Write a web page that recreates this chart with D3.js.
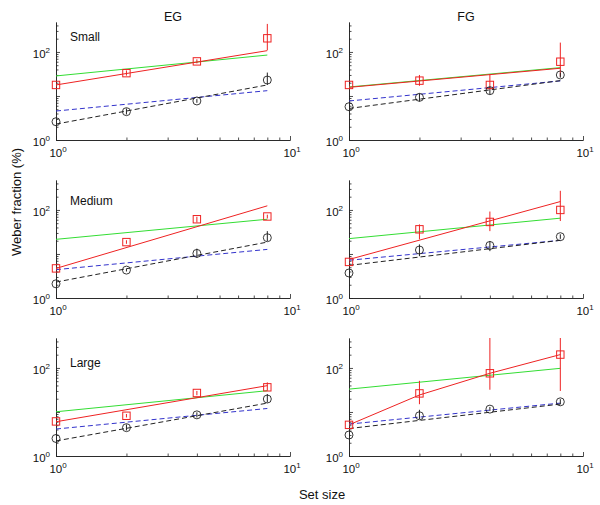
<!DOCTYPE html>
<html>
<head>
<meta charset="utf-8">
<script src="https://cdn.jsdelivr.net/npm/d3@7"></script>
<style>
  body { margin: 0; background: #fff; }
  svg { display: block; font-family: "Liberation Sans", Arial, sans-serif; }
</style>
</head>
<body>
<svg id="chart" width="600" height="505"></svg>
<script>
// ---------- data ----------
const columnTitles = ["EG", "FG"];
const rowLabels = ["Small", "Medium", "Large"];
const setSizes = [1, 2, 4, 8];
const fitEnds = [1, 8];
const xTickValues = [1, 10];
const yTickValues = [1, 100];
// panel order: EG Small, FG Small, EG Medium, FG Medium, EG Large, FG Large
const redPoints = [
  [17.8, 33, 61, 204],
  [17.8, 22.3, 17.8, 60],
  [4.7, 18.6, 61.5, 71],
  [6.6, 36.3, 53.4, 100],
  [6.1, 8.2, 27, 36.3],
  [5.1, 26.4, 75.6, 201]
];
const redErrLow = [
  [16, 29, 55, 110],
  [16.5, 17, 14.4, 27.5],
  [4.3, 17, 52, 64],
  [6, 21.5, 33, 56],
  [5.6, 7.5, 24, 30.4],
  [4.6, 15, 32, 30]
];
const redErrHigh = [
  [20, 38, 68, 433],
  [19, 30, 31.6, 163],
  [5.2, 20.5, 70, 78],
  [7.3, 47, 92, 272],
  [6.6, 9, 30, 47],
  [5.7, 51, 700, 700]
];
const blackPoints = [
  [2.6, 4.4, 7.7, 23],
  [5.7, 9.3, 13.2, 30],
  [2.1, 4.3, 10.3, 23.4],
  [3.7, 12.3, 15.6, 24.7],
  [2.5, 4.4, 8.6, 19.7],
  [3.0, 8.2, 11.6, 17]
];
const blackErrLow = [
  [2.4, 3.8, 7, 17.8],
  [5.2, 7.5, 11, 26],
  [1.95, 4, 8.2, 19.7],
  [3.4, 8.9, 11.6, 22],
  [2.3, 3.8, 7.5, 16.5],
  [2.8, 6.9, 10.5, 15]
];
const blackErrHigh = [
  [2.8, 5.2, 8.5, 34],
  [6.2, 11.5, 16, 34],
  [2.3, 4.7, 13.2, 33],
  [4, 16.5, 19.7, 28],
  [2.7, 5.2, 9.8, 25.5],
  [3.3, 11.2, 13, 19.5]
];
// fit lines: two values => at set sizes 1 and 8; four values => at 1,2,4,8
const redFit = [
  [17.8, 107],
  [15.7, 42.6],
  [4.7, 124],
  [7.5, 155],
  [6, 39.6],
  [5.1, 24.3, 75.6, 201]
];
const greenFit = [
  [28.5, 85],
  [16, 44],
  [21.5, 61.5],
  [22.3, 65],
  [10.1, 30.4],
  [33, 98]
];
const blackFit = [
  [2.3, 17.8],
  [5.2, 22.3],
  [2.3, 18.6],
  [5.5, 20.4],
  [2.2, 15.9],
  [4.2, 15.1]
];
const blueFit = [
  [4.55, 13.2],
  [7.7, 22],
  [4.4, 12.7],
  [7.2, 20.4],
  [4.1, 12],
  [5.3, 15.9]
];

// ---------- layout ----------
const colX = [56, 349];
const rowBottom = [140, 298, 456];
const plotW = 234, plotH = 118;
const yMax = Math.pow(10, 2.68);
const labelOffsets = [19, 25, 29];
const axisColor = "#222";
const RED = "#ee2222", GREEN = "#33dd33", BLUE = "#3333cc", BLACK = "#222";

const svg = d3.select("#chart");
const defs = svg.append("defs");

function sup(sel, base, exp) {
  sel.append("tspan").text(base);
  sel.append("tspan").attr("dy", -5).attr("font-size", 8).text(exp);
}

rowLabels.forEach((rowName, r) => {
  columnTitles.forEach((colName, c) => {
    const p = r * 2 + c;
    const x0 = colX[c], yb = rowBottom[r];
    const x = d3.scaleLog().domain([1, 10]).range([x0, x0 + plotW]);
    const y = d3.scaleLog().domain([1, yMax]).range([yb, yb - plotH]);
    const g = svg.append("g");

    const clipId = "clip" + p;
    defs.append("clipPath").attr("id", clipId)
      .append("rect").attr("x", x0).attr("y", yb - plotH).attr("width", plotW).attr("height", plotH);

    // axes
    const minorX = d3.range(2, 10);
    const minorY = [2,3,4,5,6,7,8,9,20,30,40,50,60,70,80,90,200,300,400];
    const xa = g.append("g").attr("transform", `translate(0,${yb})`)
      .call(d3.axisBottom(x).tickValues(minorX).tickSize(-2.5).tickSizeOuter(0).tickFormat(""));
    const xb = g.append("g").attr("transform", `translate(0,${yb})`)
      .call(d3.axisBottom(x).tickValues([1, 10]).tickSize(-4).tickSizeOuter(0).tickFormat(""));
    const ya = g.append("g").attr("transform", `translate(${x0},0)`)
      .call(d3.axisLeft(y).tickValues(minorY).tickSize(-2.5).tickSizeOuter(0).tickFormat(""));
    const yb2 = g.append("g").attr("transform", `translate(${x0},0)`)
      .call(d3.axisLeft(y).tickValues([1, 10, 100]).tickSize(-4).tickSizeOuter(0).tickFormat(""));
    [xa, xb, ya, yb2].forEach(a => {
      a.selectAll("path,line").attr("stroke", axisColor).attr("stroke-width", 0.8);
    });

    // tick labels
    xTickValues.forEach((v, i) => {
      const t = g.append("text").attr("x", x(v) + 2).attr("y", yb + 17)
        .attr("text-anchor", "middle").attr("font-size", 11.5).attr("fill", "#111");
      sup(t, "10", String(Math.round(Math.log10(v))));
    });
    yTickValues.forEach(v => {
      const t = g.append("text").attr("x", x0 - 6).attr("y", y(v) + 6)
        .attr("text-anchor", "end").attr("font-size", 11.5).attr("fill", "#111");
      sup(t, "10", String(Math.round(Math.log10(v))));
    });

    if (r === 0) {
      g.append("text").attr("x", x0 + 117).attr("y", 21).attr("text-anchor", "middle")
        .attr("font-size", 12.5).attr("fill", "#111").text(colName);
    }
    if (c === 0) {
      g.append("text").attr("x", x0 + 14).attr("y", yb - plotH + labelOffsets[r])
        .attr("font-size", 12).attr("fill", "#111").text(rowName);
    }

    const plot = g.append("g").attr("clip-path", `url(#${clipId})`);
    const line = d3.line().x(d => x(d[0])).y(d => y(d[1]));
    const fitPts = vals => (vals.length === 2 ? fitEnds : setSizes).map((s, i) => [s, vals[i]]);

    plot.append("path").datum(fitPts(greenFit[p])).attr("d", line)
      .attr("fill", "none").attr("stroke", GREEN).attr("stroke-width", 1);
    plot.append("path").datum(fitPts(redFit[p])).attr("d", line)
      .attr("fill", "none").attr("stroke", RED).attr("stroke-width", 1);
    plot.append("path").datum(fitPts(blueFit[p])).attr("d", line)
      .attr("fill", "none").attr("stroke", BLUE).attr("stroke-width", 1).attr("stroke-dasharray", "5,3");
    plot.append("path").datum(fitPts(blackFit[p])).attr("d", line)
      .attr("fill", "none").attr("stroke", BLACK).attr("stroke-width", 1).attr("stroke-dasharray", "5,3");

    // error bars
    plot.selectAll(".eb-red").data(setSizes).enter().append("line")
      .attr("x1", d => x(d)).attr("x2", d => x(d))
      .attr("y1", (d, i) => y(redErrLow[p][i])).attr("y2", (d, i) => y(redErrHigh[p][i]))
      .attr("stroke", RED).attr("stroke-width", 1);
    plot.selectAll(".eb-blk").data(setSizes).enter().append("line")
      .attr("x1", d => x(d)).attr("x2", d => x(d))
      .attr("y1", (d, i) => y(blackErrLow[p][i])).attr("y2", (d, i) => y(blackErrHigh[p][i]))
      .attr("stroke", BLACK).attr("stroke-width", 1);

    // markers
    g.selectAll(".sq").data(setSizes).enter().append("rect")
      .attr("x", d => x(d) - 3.7).attr("y", (d, i) => y(redPoints[p][i]) - 3.7)
      .attr("width", 7.4).attr("height", 7.4)
      .attr("fill", "none").attr("stroke", RED).attr("stroke-width", 1);
    g.selectAll(".ci").data(setSizes).enter().append("circle")
      .attr("cx", d => x(d)).attr("cy", (d, i) => y(blackPoints[p][i])).attr("r", 4)
      .attr("fill", "none").attr("stroke", BLACK).attr("stroke-width", 0.9);
  });
});

svg.append("text").attr("transform", "translate(21,202) rotate(-90)")
  .attr("text-anchor", "middle").attr("font-size", 13).attr("fill", "#111").text("Weber fraction (%)");
svg.append("text").attr("x", 322).attr("y", 499)
  .attr("text-anchor", "middle").attr("font-size", 13).attr("fill", "#111").text("Set size");
</script>
</body>
</html>
